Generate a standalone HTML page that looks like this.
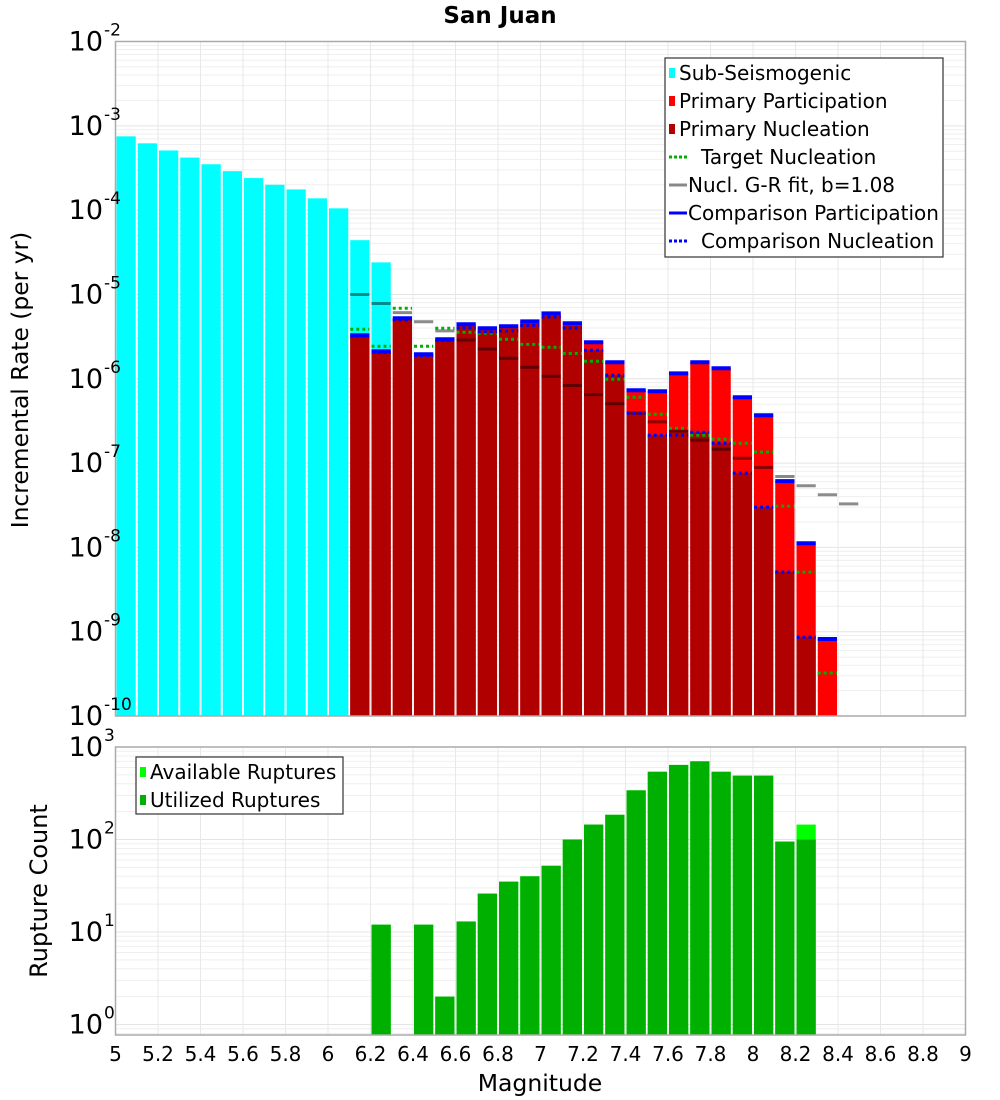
<!DOCTYPE html>
<html><head><meta charset="utf-8"><style>
html,body{margin:0;padding:0;background:#fff;}
svg{display:block;font-family:"DejaVu Sans","Liberation Sans",sans-serif;}
</style></head><body>
<svg id="chart" width="1000" height="1100" viewBox="0 0 1000 1100" xmlns="http://www.w3.org/2000/svg">
<text x="500" y="23" text-anchor="middle" font-size="23" font-weight="bold">San Juan</text>
<text transform="translate(28,380) rotate(-90)" text-anchor="middle" font-size="23.4">Incremental Rate (per yr)</text>
<text transform="translate(47,891) rotate(-90)" text-anchor="middle" font-size="24">Rupture Count</text>
<text x="540" y="1091" text-anchor="middle" font-size="23.5">Magnitude</text>
<g id="topPlot"></g>
<g id="botPlot"></g>
</svg>
<script>
const subMags = [5.05,5.15,5.25,5.35,5.45,5.55,5.65,5.75,5.85,5.95,6.05,6.15,6.25];
const subRates = [7.5e-4,6.2e-4,5.1e-4,4.2e-4,3.5e-4,2.9e-4,2.4e-4,2.0e-4,1.76e-4,1.38e-4,1.05e-4,4.4e-5,2.4e-5];
const primMags = [6.15,6.25,6.35,6.45,6.55,6.65,6.75,6.85,6.95,7.05,7.15,7.25,7.35,7.45,7.55,7.65,7.75,7.85,7.95,8.05,8.15,8.25,8.35];
const partRates = [3.28e-6,2.12e-6,5.21e-6,1.95e-6,2.94e-6,4.43e-6,3.97e-6,4.19e-6,4.80e-6,5.97e-6,4.55e-6,2.71e-6,1.57e-6,7.31e-7,7.11e-7,1.16e-6,1.57e-6,1.33e-6,6.04e-7,3.69e-7,6.10e-8,1.12e-8,8.18e-10];
const nuclRates = [3.2e-6,2.05e-6,5.0e-6,1.88e-6,2.85e-6,4.2e-6,3.75e-6,3.95e-6,4.5e-6,5.6e-6,4.25e-6,2.18e-6,1.10e-6,3.90e-7,2.14e-7,2.45e-7,2.32e-7,1.72e-7,7.6e-8,3.0e-8,5.1e-9,8.6e-10,0];
const targetRates = [3.86e-6,2.43e-6,6.85e-6,2.43e-6,3.97e-6,3.56e-6,3.46e-6,2.94e-6,2.56e-6,2.36e-6,2.0e-6,1.61e-6,9.87e-7,6.04e-7,3.79e-7,2.59e-7,2.14e-7,1.92e-7,1.72e-7,1.35e-7,3.08e-8,5.09e-9,3.24e-10];
const compPartRates = [3.28e-6,2.12e-6,5.21e-6,1.95e-6,2.94e-6,4.43e-6,3.97e-6,4.19e-6,4.80e-6,5.97e-6,4.55e-6,2.71e-6,1.57e-6,7.31e-7,7.11e-7,1.16e-6,1.57e-6,1.33e-6,6.04e-7,3.69e-7,6.10e-8,1.12e-8,8.18e-10];
const compNuclRates = [3.2e-6,2.05e-6,5.0e-6,1.88e-6,2.85e-6,4.0e-6,3.6e-6,3.7e-6,4.3e-6,5.4e-6,4.0e-6,2.18e-6,1.10e-6,3.90e-7,2.14e-7,2.14e-7,2.32e-7,1.72e-7,7.6e-8,3.0e-8,5.1e-9,8.6e-10,0];
const grMags = [6.15,6.25,6.35,6.45,6.55,6.65,6.75,6.85,6.95,7.05,7.15,7.25,7.35,7.45,7.55,7.65,7.75,7.85,7.95,8.05,8.15,8.25,8.35,8.45];
const grRates = [1.00e-5,7.80e-6,6.08e-6,4.74e-6,3.70e-6,2.88e-6,2.25e-6,1.75e-6,1.37e-6,1.07e-6,8.32e-7,6.49e-7,5.06e-7,3.94e-7,3.08e-7,2.40e-7,1.87e-7,1.46e-7,1.14e-7,8.87e-8,6.92e-8,5.39e-8,4.21e-8,3.28e-8];
const cntMags = [6.25,6.45,6.55,6.65,6.75,6.85,6.95,7.05,7.15,7.25,7.35,7.45,7.55,7.65,7.75,7.85,7.95,8.05,8.15,8.25];
const availCounts = [12,12,2,13,26,35,40,52,100,145,185,340,540,640,700,540,490,490,95,145];
const usedCounts = [12,12,2,13,26,35,40,52,100,145,185,340,540,640,700,540,490,490,95,100];
const xTicks = ["5","5.2","5.4","5.6","5.8","6","6.2","6.4","6.6","6.8","7","7.2","7.4","7.6","7.8","8","8.2","8.4","8.6","8.8","9"];
const topExps = [-2,-3,-4,-5,-6,-7,-8,-9,-10];
const botExps = [3,2,1,0];

const NS="http://www.w3.org/2000/svg";
const X0=115.5,X1=965.5;
const T0=41.5,T1=716;
const B0=747,B1=1035;
function xs(m){return X0+(m-5)*(X1-X0)/4;}
function yt(v){return T0+(-2-Math.log10(v))*(T1-T0)/8;}
function yb(v){return B0+(3-Math.log10(v))*92.5;}
const BW=(X1-X0)/40;
function mk(parent,tag,attrs){const e=document.createElementNS(NS,tag);for(const k in attrs)e.setAttribute(k,attrs[k]);parent.appendChild(e);return e;}
const topG=document.getElementById('topPlot'),botG=document.getElementById('botPlot');
const svgEl=document.getElementById('chart');

function frame(g,y0,y1,decFn,dmin,dmax,name){
  const bg=mk(g,'rect',{x:X0,y:y0,width:X1-X0,height:y1-y0,fill:'#fff'});
  
  
  for(let d=dmin;d<dmax;d++){for(let k=1;k<10;k++){const y=decFn(k*Math.pow(10,d));if(y<y0||y>y1)continue;
    const l=mk(g,'line',{x1:X0,x2:X1,y1:y,y2:y,stroke:k==1?'#e4e4e4':'#efefef','stroke-width':1});
    
    }}
  for(let i=0;i<xTicks.length;i++){const x=xs(+xTicks[i]);
    const l=mk(g,'line',{x1:x,x2:x,y1:y0,y2:y1,stroke:'#e8e8e8','stroke-width':1});
    
    }
}
frame(topG,T0,T1,yt,-10,-2,'rate-plot');
frame(botG,B0,B1,yb,-1,3,'count-plot');

function bar(g,m,v,fill,yfn,ybase,name){
  if(!(v>0))return;
  const x=xs(m)-BW/2+1,y=yfn(v);
  const r=mk(g,'rect',{x:x,y:y,width:BW-2,height:Math.max(0,ybase-y),fill:fill});
  
  
}
subMags.forEach((m,i)=>bar(topG,m,subRates[i],'#00ffff',yt,T1,'sub-seismogenic-bar'));
primMags.forEach((m,i)=>bar(topG,m,partRates[i],'#ff0000',yt,T1,'primary-participation-bar'));
primMags.forEach((m,i)=>bar(topG,m,nuclRates[i],'#b00000',yt,T1,'primary-nucleation-bar'));
function seg(g,m,y,stroke,w,dash,name){
  const l=mk(g,'line',{x1:xs(m)-BW/2+1,x2:xs(m)+BW/2-1,y1:y,y2:y,stroke:stroke,'stroke-width':w});
  if(dash)l.setAttribute('stroke-dasharray',dash);
  
  
}
grMags.forEach((m,i)=>seg(topG,m,yt(grRates[i]),'rgba(0,0,0,0.45)',3,null,'gr-fit-segment'));
primMags.forEach((m,i)=>{if(targetRates[i]>0)seg(topG,m,yt(targetRates[i]),'#00b000',3,'3,3','target-nucleation-segment');});
primMags.forEach((m,i)=>{if(compPartRates[i]>0)seg(topG,m,yt(compPartRates[i]),'#0000ff',4,null,'comparison-participation-segment');});
primMags.forEach((m,i)=>{if(compNuclRates[i]>0)seg(topG,m,yt(compNuclRates[i]),'#0000ff',3,'3,3','comparison-nucleation-segment');});

cntMags.forEach((m,i)=>bar(botG,m,availCounts[i],'#00ff00',yb,B1,'available-ruptures-bar'));
cntMags.forEach((m,i)=>bar(botG,m,usedCounts[i],'#00b000',yb,B1,'utilized-ruptures-bar'));

[[T0,T1],[B0,B1]].forEach(([a,b])=>{const r=mk(svgEl,'rect',{x:X0,y:a,width:X1-X0,height:b-a,fill:'none',stroke:'#aaa','stroke-width':1.5});
  
  });

function expLabel(y,e,name){
  const t=mk(svgEl,'text',{x:103,y:y+9,'text-anchor':'end','font-size':27});
  
  
  t.textContent='10';
  const s=mk(svgEl,'text',{x:104,y:y-6,'text-anchor':'start','font-size':17});
  
  
  s.textContent=String(e);
}
topExps.forEach(e=>expLabel(yt(Math.pow(10,e)),e,'y-tick-label-rate'));
botExps.forEach(e=>expLabel(yb(Math.pow(10,e)),e,'y-tick-label-count'));
xTicks.forEach(t=>{const l=mk(svgEl,'text',{x:xs(+t),y:1061,'text-anchor':'middle','font-size':20});
  
  
  l.textContent=t;});

function legend(x,y,w,h,items,name){
  const g=mk(svgEl,'g',{});
  
  
  mk(g,'rect',{x:x,y:y,width:w,height:h,fill:'#fff',stroke:'#333','stroke-width':1.2});
  items.forEach((it,i)=>{const cy=y+15+i*28;
    const e=mk(g,'g',{});
    
    
    if(it.type==='box')mk(e,'rect',{x:x+4,y:cy-5,width:6,height:10,fill:it.c});
    else{const l=mk(e,'line',{x1:x+4,x2:x+22,y1:cy,y2:cy,stroke:it.c,'stroke-width':3});if(it.dash)l.setAttribute('stroke-dasharray','3,2');}
    const t=mk(e,'text',{x:x+(it.type==='box'?14:it.tx),y:cy+7,'font-size':20});t.textContent=it.t;});
}
legend(665,58,278,199,[
 {type:'box',c:'#00ffff',t:'Sub-Seismogenic'},
 {type:'box',c:'#ff0000',t:'Primary Participation'},
 {type:'box',c:'#b00000',t:'Primary Nucleation'},
 {type:'line',c:'#00b000',dash:1,t:'Target Nucleation',tx:36},
 {type:'line',c:'#888',t:'Nucl. G-R fit, b=1.08',tx:23},
 {type:'line',c:'#0000ff',t:'Comparison Participation',tx:23},
 {type:'line',c:'#0000ff',dash:1,t:'Comparison Nucleation',tx:36}],'rate-legend');
legend(136,757,207,57,[
 {type:'box',c:'#00ff00',t:'Available Ruptures'},
 {type:'box',c:'#00b000',t:'Utilized Ruptures'}],'count-legend');
</script>
</body></html>
